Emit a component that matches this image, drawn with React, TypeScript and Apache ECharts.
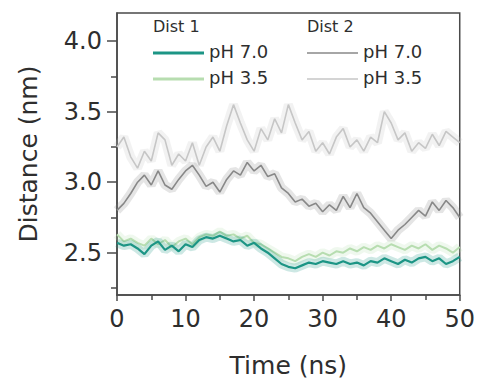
import React, { useEffect, useRef } from "react";
import * as echarts from "echarts";

const time: number[] = Array.from({ length: 51 }, (_, i) => i);

const dist1pH70: number[] = [
  2.57, 2.55, 2.56, 2.53, 2.49, 2.55, 2.58, 2.52, 2.55, 2.51,
  2.56, 2.54, 2.59, 2.61, 2.60, 2.62, 2.60, 2.58, 2.59, 2.55,
  2.57, 2.53, 2.50, 2.46, 2.42, 2.40, 2.39, 2.41, 2.43, 2.42,
  2.44, 2.43, 2.42, 2.44, 2.42, 2.43, 2.41, 2.44, 2.43, 2.46,
  2.44, 2.42, 2.45, 2.43, 2.46, 2.47, 2.44, 2.46, 2.42, 2.44, 2.47,
];
const dist1pH35: number[] = [
  2.63, 2.58, 2.60, 2.57, 2.55, 2.60, 2.56, 2.59, 2.54, 2.58,
  2.60, 2.56, 2.61, 2.63, 2.62, 2.65, 2.62, 2.63, 2.60, 2.62,
  2.57, 2.56, 2.53, 2.50, 2.47, 2.46, 2.44, 2.47, 2.49, 2.47,
  2.50, 2.48, 2.51, 2.50, 2.53, 2.51, 2.54, 2.52, 2.55, 2.53,
  2.56, 2.54, 2.52, 2.55, 2.53, 2.56, 2.52, 2.55, 2.53, 2.50, 2.54,
];
const dist2pH70: number[] = [
  2.80, 2.85, 2.92, 3.00, 3.05, 2.98, 3.08, 2.98, 2.95, 3.02,
  3.08, 3.12, 3.05, 2.97, 3.00, 2.93, 3.02, 3.08, 3.05, 3.14,
  3.08, 3.12, 3.04, 3.06, 2.96, 2.92, 2.86, 2.88, 2.83, 2.85,
  2.79, 2.84, 2.80, 2.90, 2.82, 2.92, 2.82, 2.78, 2.72, 2.66,
  2.60, 2.66, 2.70, 2.75, 2.80, 2.76, 2.86, 2.80, 2.87, 2.82, 2.75,
];
const dist2pH35: number[] = [
  3.25, 3.32, 3.18, 3.10, 3.22, 3.15, 3.35, 3.30, 3.12, 3.20,
  3.15, 3.28, 3.12, 3.25, 3.32, 3.22, 3.40, 3.55, 3.42, 3.30,
  3.22, 3.38, 3.30, 3.45, 3.35, 3.55, 3.42, 3.30, 3.36, 3.22,
  3.28, 3.20, 3.32, 3.38, 3.25, 3.30, 3.22, 3.32, 3.28, 3.50,
  3.42, 3.30, 3.35, 3.22, 3.28, 3.24, 3.34, 3.26, 3.36, 3.32, 3.28,
];

const xLabels: number[] = [0, 10, 20, 30, 40, 50];
const yMajor: number[] = [2.5, 3.0, 3.5, 4.0];
const yMinor: number[] = [2.25, 2.75, 3.25, 3.75];

const FONT = "DejaVu Sans";
const TEXT = "#2e2e2e";
const AXIS = "#4a4a4a";

const seriesDefs = [
  { name: "Dist 2 pH 3.5", data: dist2pH35, color: "#c6c6c6", width: 1.6 },
  { name: "Dist 2 pH 7.0", data: dist2pH70, color: "#888888", width: 1.6 },
  { name: "Dist 1 pH 3.5", data: dist1pH35, color: "#b7ddb0", width: 2 },
  { name: "Dist 1 pH 7.0", data: dist1pH70, color: "#1c9585", width: 2.2 },
];

export default function App() {
  const ref = useRef<HTMLDivElement>(null);
  useEffect(() => {
    if (!ref.current) return;
    const chart = echarts.init(ref.current, null, { renderer: "svg" });
    const series: any[] = [];
    seriesDefs.forEach((s) => {
      const pts = time.map((t, i) => [t, s.data[i]]);
      series.push({
        name: s.name + " band",
        type: "line",
        showSymbol: false,
        silent: true,
        data: pts,
        lineStyle: { color: s.color, width: 9, opacity: 0.22 },
        yAxisIndex: 0,
      });
      series.push({
        name: s.name,
        type: "line",
        showSymbol: false,
        data: pts,
        lineStyle: { color: s.color, width: s.width },
        yAxisIndex: 0,
      });
    });

    const legendRows = [
      { x: 153, header: "Dist 1", items: [
        { label: "pH 7.0", color: "#1c9585", w: 3 },
        { label: "pH 3.5", color: "#b7ddb0", w: 3 },
      ] },
      { x: 307, header: "Dist 2", items: [
        { label: "pH 7.0", color: "#888888", w: 1.5 },
        { label: "pH 3.5", color: "#c6c6c6", w: 1.5 },
      ] },
    ];
    const graphic: any[] = [];
    legendRows.forEach((g) => {
      graphic.push({
        type: "text", left: g.x, top: 18,
        style: { text: g.header, font: `16px '${FONT}'`, fill: TEXT },
      });
      g.items.forEach((it, k) => {
        const y = 53 + k * 26;
        graphic.push({
          type: "line",
          shape: { x1: g.x, y1: y, x2: g.x + 51, y2: y },
          style: { stroke: it.color, lineWidth: it.w },
        });
        graphic.push({
          type: "text", left: g.x + 56, top: y - 11,
          style: { text: it.label, font: `18px '${FONT}'`, fill: TEXT },
        });
      });
    });

    chart.setOption({
      animation: false,
      backgroundColor: "#fff",
      grid: {
        left: 117, right: 17, top: 13, bottom: 88,
        show: true, borderColor: AXIS, borderWidth: 1.5,
      },
      xAxis: {
        type: "value", min: 0, max: 50, interval: 10,
        name: "Time (ns)", nameLocation: "middle", nameGap: 58,
        nameTextStyle: { fontFamily: FONT, fontSize: 25, color: TEXT },
        axisLine: { show: true, lineStyle: { color: AXIS, width: 1.5 } },
        axisTick: { show: true, length: 6, lineStyle: { color: AXIS, width: 1.5 } },
        minorTick: { show: true, splitNumber: 2, length: 5, lineStyle: { color: AXIS, width: 1.5 } },
        axisLabel: {
          customValues: xLabels,
          fontFamily: FONT, fontSize: 24, color: TEXT, margin: 12,
        },
        splitLine: { show: false },
        minorSplitLine: { show: false },
      },
      yAxis: [
        {
          type: "value", min: 2.2, max: 4.2, position: "left",
          name: "Distance (nm)", nameLocation: "middle", nameGap: 76,
          nameTextStyle: { fontFamily: FONT, fontSize: 25, color: TEXT },
          axisLine: { show: true, lineStyle: { color: AXIS, width: 1.5 } },
          axisTick: { show: true, length: 10, customValues: yMajor, lineStyle: { color: AXIS, width: 1.5 } },
          axisLabel: {
            customValues: yMajor,
            formatter: (v: number) => v.toFixed(1),
            fontFamily: FONT, fontSize: 24, color: TEXT, margin: 15,
          },
          splitLine: { show: false },
        },
        {
          type: "value", min: 2.2, max: 4.2, position: "left", offset: 0,
          axisLine: { show: false },
          axisTick: { show: true, length: 6, customValues: yMinor, lineStyle: { color: AXIS, width: 1.5 } },
          axisLabel: { show: false },
          splitLine: { show: false },
        },
      ],
      series,
      graphic,
    });
    return () => chart.dispose();
  }, []);
  return (
    <div
      ref={ref}
      style={{ position: "fixed", left: 0, top: 0, width: 478, height: 383 }}
    />
  );
}
